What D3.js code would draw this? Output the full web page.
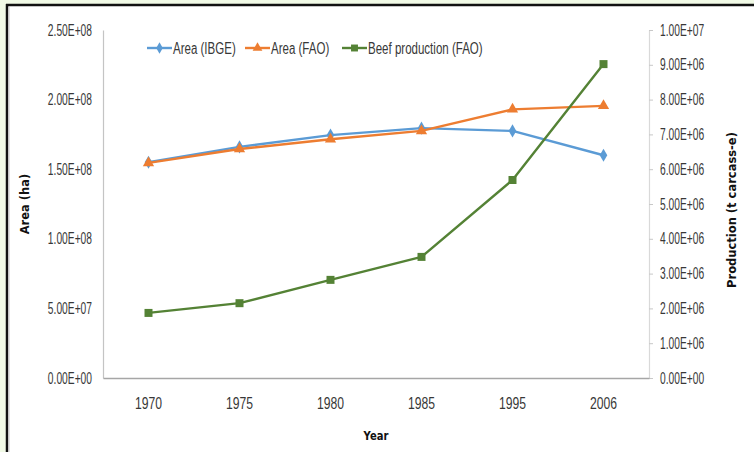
<!DOCTYPE html>
<html>
<head>
<meta charset="utf-8">
<script src="https://cdn.jsdelivr.net/npm/d3@7"></script>
<style>
  html, body { margin: 0; padding: 0; background: #fff; }
  svg { display: block; }
  .tick text, .leg { font-family: "Liberation Sans", Arial, sans-serif; font-size: 16px; fill: #383838; }
  .ttl { font-family: "DejaVu Sans", sans-serif; font-weight: bold; fill: #111; }
</style>
</head>
<body>
<svg id="chart" width="754" height="452"></svg>
<script>
// Categories and series
const years = ["1970", "1975", "1980", "1985", "1995", "2006"];
const areaIBGE = [1.55e8, 1.66e8, 1.745e8, 1.795e8, 1.775e8, 1.60e8];
const areaFAO = [1.545e8, 1.645e8, 1.715e8, 1.775e8, 1.93e8, 1.955e8];
const beefFAO = [1.87e6, 2.15e6, 2.82e6, 3.48e6, 5.69e6, 9.02e6];

// Tick values for both value axes
const leftTicks = [0, 5e7, 1e8, 1.5e8, 2e8, 2.5e8];
const rightTicks = [0, 1e6, 2e6, 3e6, 4e6, 5e6, 6e6, 7e6, 8e6, 9e6, 1e7];

const seriesNames = ["Area (IBGE)", "Area (FAO)", "Beef production (FAO)"];
const seriesColors = ["#5b9bd5", "#ed7d31", "#548235"];

const svg = d3.select("#chart");
const W = 754, H = 452;

// Horizontally condense text to a narrow look
function squeeze(sel, factor) {
  sel.each(function () {
    const w = this.getComputedTextLength();
    d3.select(this).attr("textLength", w * factor).attr("lengthAdjust", "spacingAndGlyphs");
  });
}

// Page frame
svg.append("rect").attr("width", W).attr("height", H).attr("fill", "#f1fae6");
svg.append("rect").attr("x", 8).attr("y", 6).attr("width", W - 8).attr("height", H - 6).attr("fill", "#fff");
svg.append("line").attr("x1", 6).attr("x2", W).attr("y1", 5).attr("y2", 5).attr("stroke", "#111").attr("stroke-width", 2.5);
svg.append("line").attr("x1", 7).attr("x2", 7).attr("y1", 4).attr("y2", H).attr("stroke", "#111").attr("stroke-width", 2.5);
svg.append("line").attr("x1", 9).attr("x2", 9).attr("y1", 7).attr("y2", H).attr("stroke", "#c8c8c8").attr("stroke-width", 1);

const plot = { left: 103, right: 649, top: 30, bottom: 378 };

const x = d3.scaleBand().domain(years).range([plot.left, plot.right]);
const yL = d3.scaleLinear().domain([0, 2.5e8]).range([plot.bottom, plot.top]);
const yR = d3.scaleLinear().domain([0, 1e7]).range([plot.bottom, plot.top]);

// Exponent format, e.g. 2.50E+08
const sci = d => {
  const [m, e] = d.toExponential(2).split("e");
  return m + "E" + (e[0] === "-" ? "-" : "+") + String(Math.abs(+e)).padStart(2, "0");
};

// Left axis
const gL = svg.append("g").attr("transform", `translate(${plot.left},0)`)
  .call(d3.axisLeft(yL).tickValues(leftTicks).tickFormat(sci).tickSize(0).tickPadding(11));
gL.select(".domain").attr("stroke", "#c4c4c4").attr("stroke-width", 1.2);

// Right axis
const gR = svg.append("g").attr("transform", `translate(${plot.right},0)`)
  .call(d3.axisRight(yR).tickValues(rightTicks).tickFormat(sci).tickSizeInner(4).tickSizeOuter(0).tickPadding(7));
gR.select(".domain").attr("stroke", "#d9d9d9").attr("stroke-width", 1.2);
gR.selectAll(".tick line").attr("stroke", "#c8c8c8");

// Bottom axis
const gB = svg.append("g").attr("transform", `translate(0,${plot.bottom})`)
  .call(d3.axisBottom(x).tickSize(0).tickPadding(20).tickSizeOuter(0));
gB.select(".domain").attr("stroke", "#a6a6a6").attr("stroke-width", 1.4);

squeeze(gL.selectAll(".tick text"), 0.64);
squeeze(gR.selectAll(".tick text"), 0.64);
squeeze(gB.selectAll(".tick text"), 0.76);

// Axis titles
svg.append("text").attr("class", "ttl").attr("font-size", 11.5)
  .attr("transform", `translate(29,${(plot.top + plot.bottom) / 2}) rotate(-90)`)
  .attr("text-anchor", "middle").text("Area (ha)");
svg.append("text").attr("class", "ttl").attr("font-size", 11.5)
  .attr("transform", `translate(736,${(plot.top + plot.bottom) / 2 + 6}) rotate(-90)`)
  .attr("text-anchor", "middle").text("Production (t carcass-e)");
const yt = svg.append("text").attr("class", "ttl").attr("font-size", 12.5)
  .attr("x", 376).attr("y", 440).attr("text-anchor", "middle").text("Year");
squeeze(yt, 0.8);

// Series
const series = [
  { values: areaIBGE, y: yL, color: seriesColors[0], shape: d3.symbolDiamond, size: 50 },
  { values: areaFAO, y: yL, color: seriesColors[1], shape: d3.symbolTriangle, size: 55 },
  { values: beefFAO, y: yR, color: seriesColors[2], shape: d3.symbolSquare, size: 64 }
];
const cx = d => x(d) + x.bandwidth() / 2;

series.forEach(s => {
  const line = d3.line().x((v, i) => cx(years[i])).y(v => s.y(v));
  svg.append("path").datum(s.values).attr("d", line)
    .attr("fill", "none").attr("stroke", s.color).attr("stroke-width", 2.4).attr("stroke-linejoin", "round");
  svg.append("g").selectAll("path").data(s.values).join("path")
    .attr("transform", (v, i) => `translate(${cx(years[i])},${s.y(v)})`)
    .attr("d", d3.symbol().type(s.shape).size(s.size))
    .attr("fill", s.color);
});

// Legend
const legX = [147, 245, 342];
const leg = svg.append("g").attr("transform", "translate(0,48)");
series.forEach((s, i) => {
  const g = leg.append("g").attr("transform", `translate(${legX[i]},0)`);
  g.append("line").attr("x1", 0).attr("x2", 25).attr("stroke", s.color).attr("stroke-width", 2.4);
  g.append("path").attr("transform", "translate(12.5,0)")
    .attr("d", d3.symbol().type(s.shape).size(s.size * 0.75)).attr("fill", s.color);
  const t = g.append("text").attr("class", "leg").attr("x", 26).attr("y", 6).text(seriesNames[i]);
  squeeze(t, 0.72);
});
</script>
</body>
</html>
